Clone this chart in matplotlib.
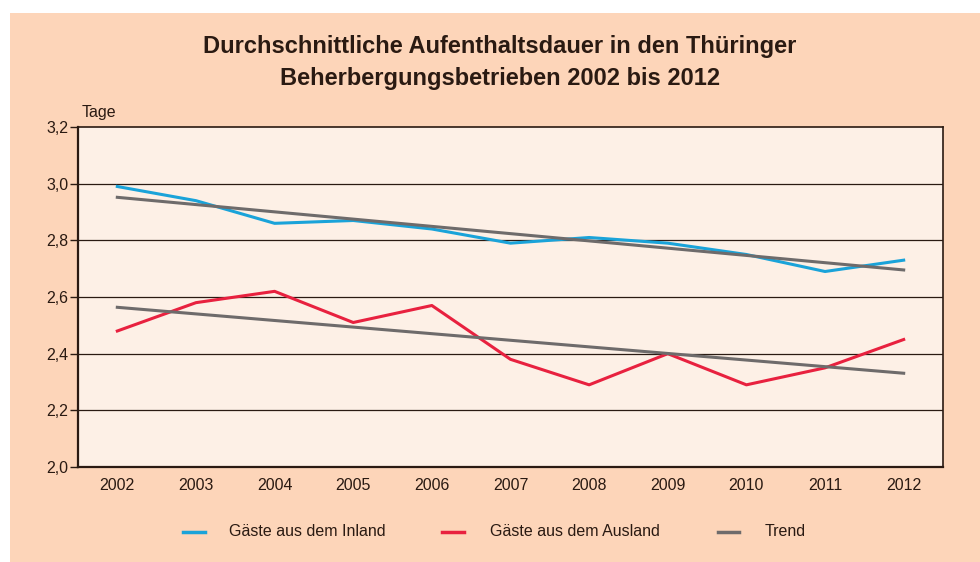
import matplotlib
matplotlib.use("Agg")
import matplotlib.pyplot as plt
from matplotlib.patches import Rectangle
import numpy as np

plt.rcParams['font.family'] = ['Liberation Sans', 'DejaVu Sans']

years = ["2002", "2003", "2004", "2005", "2006", "2007", "2008", "2009", "2010", "2011", "2012"]
inland = [2.99, 2.94, 2.86, 2.87, 2.84, 2.79, 2.81, 2.79, 2.75, 2.69, 2.73]
ausland = [2.48, 2.58, 2.62, 2.51, 2.57, 2.38, 2.29, 2.40, 2.29, 2.35, 2.45]
yticks = [2.0, 2.2, 2.4, 2.6, 2.8, 3.0, 3.2]
ytick_labels = ["2,0", "2,2", "2,4", "2,6", "2,8", "3,0", "3,2"]

outer_bg = "#FDD5B9"
inner_bg = "#FDF0E6"
c_blue = "#1AA3D9"
c_red = "#E8213F"
c_gray = "#6E6B6B"
c_dark = "#2A1A12"

fig = plt.figure(figsize=(9.8, 5.62), dpi=100, facecolor="white")
fig.patches.append(Rectangle((10/980, 0), 1 - 10/980, 1 - 13/562, transform=fig.transFigure,
                             facecolor=outer_bg, edgecolor="none", zorder=-10))

ax = fig.add_axes([78/980, 1 - 467/562, (943-78)/980, (467-127)/562])
ax.set_facecolor(inner_bg)

x = np.arange(len(years))
ax.plot(x, inland, color=c_blue, lw=2.2, zorder=3)
ax.plot(x, ausland, color=c_red, lw=2.2, zorder=3)
for s in (inland, ausland):
    k, d = np.polyfit(x, s, 1)
    ax.plot(x[[0, -1]], k * x[[0, -1]] + d, color=c_gray, lw=2.2, zorder=4)

ax.set_xlim(-0.5, len(years) - 0.5)
ax.set_ylim(2.0, 3.2)
ax.set_yticks(yticks)
ax.set_yticklabels(ytick_labels)
ax.set_xticks(x)
ax.set_xticklabels(years)
for yv in yticks[1:-1]:
    ax.axhline(yv, color=c_dark, lw=0.9, zorder=1)
ax.tick_params(axis='y', length=6, width=1, color=c_dark, labelsize=11.5, labelcolor=c_dark, pad=1)
ax.tick_params(axis='x', length=0, labelsize=11.5, labelcolor=c_dark, pad=8)
for side in ("left", "bottom"):
    ax.spines[side].set_color(c_dark)
    ax.spines[side].set_linewidth(1.6)
for side in ("right", "top"):
    ax.spines[side].set_color(c_dark)
    ax.spines[side].set_linewidth(1.2)

fig.text(82/980, 1 - 113/562, "Tage", fontsize=11.5, color=c_dark, va="center", ha="left")

fig.text(500/980, 1 - 47/562, "Durchschnittliche Aufenthaltsdauer in den Thüringer",
         fontsize=17, fontweight="bold", color=c_dark, ha="center", va="center")
fig.text(500/980, 1 - 78/562, "Beherbergungsbetrieben 2002 bis 2012",
         fontsize=17, fontweight="bold", color=c_dark, ha="center", va="center")

leg_y = 1 - 532/562
items = [(183, 205, 229, "Gäste aus dem Inland", c_blue),
         (442, 464, 490, "Gäste aus dem Ausland", c_red),
         (718, 739, 765, "Trend", c_gray)]
for x0, x1, xt, lab, col in items:
    fig.add_artist(plt.Line2D([x0/980, x1/980], [leg_y, leg_y], color=col, lw=2.5,
                              transform=fig.transFigure))
    fig.text(xt/980, leg_y, lab, fontsize=11.5, color=c_dark, ha="left", va="center")

fig.savefig("out.png", dpi=100, facecolor=fig.get_facecolor())
